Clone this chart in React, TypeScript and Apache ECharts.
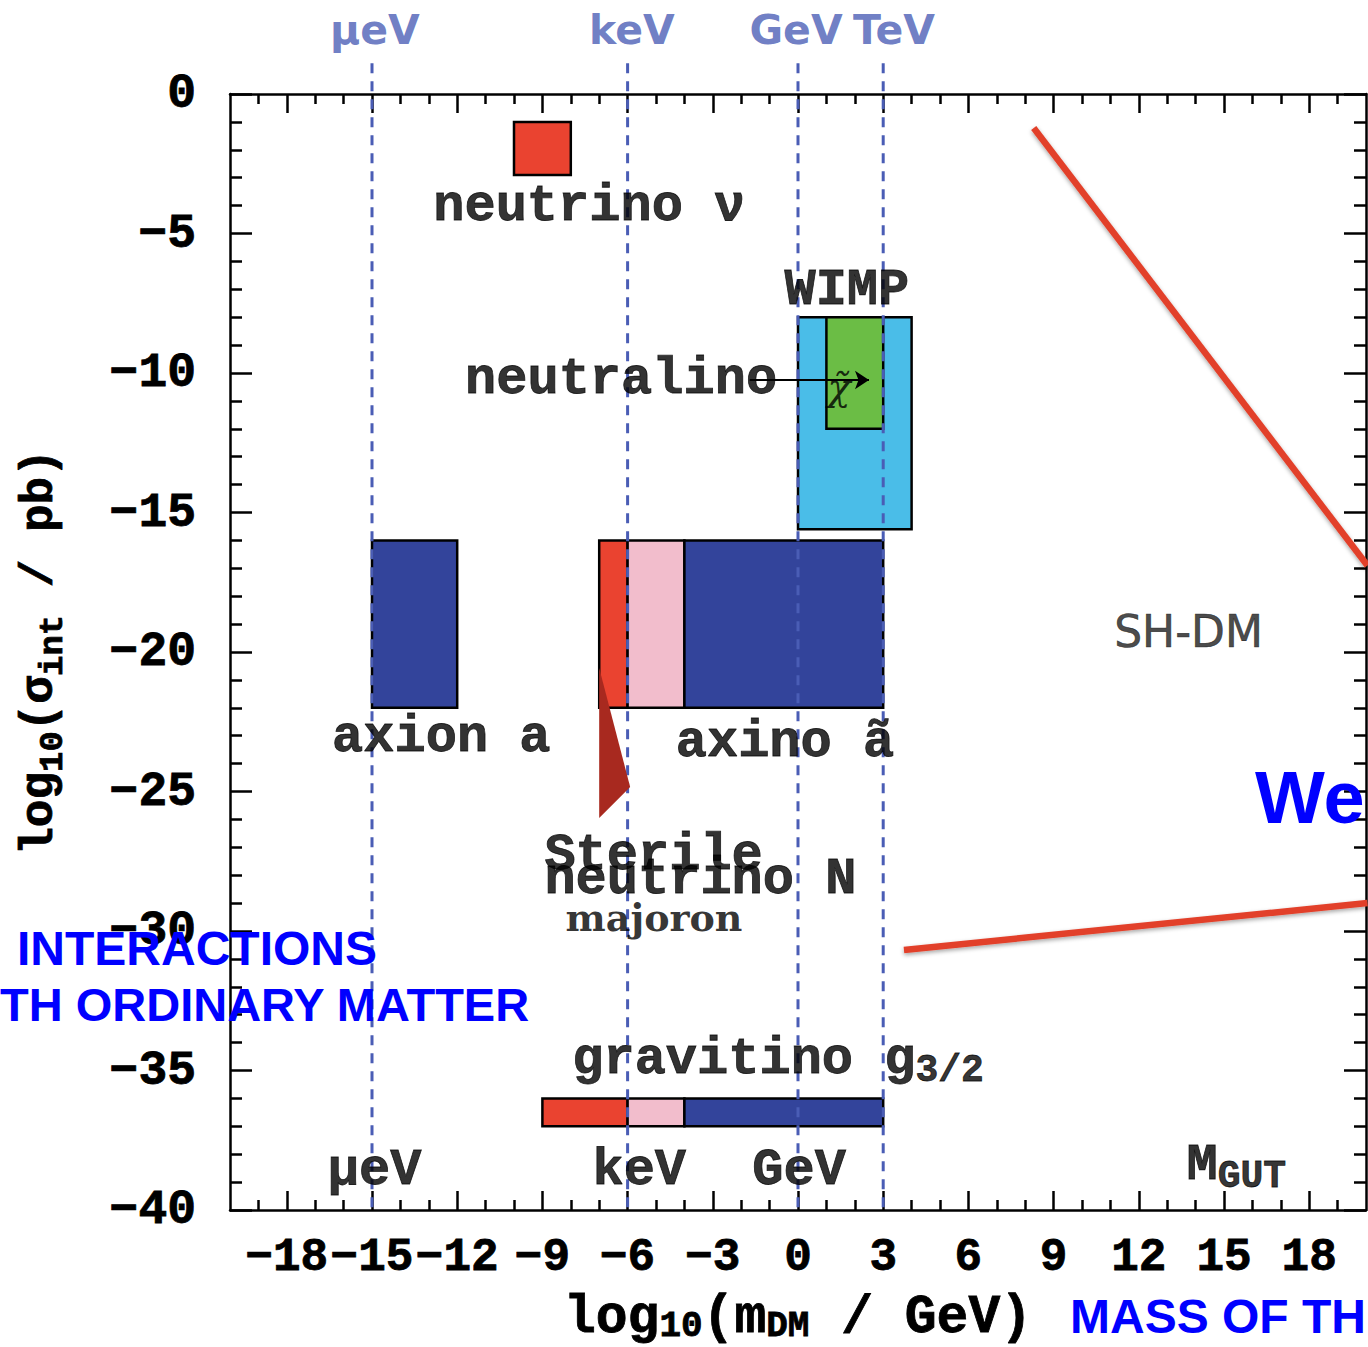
import React, { useEffect, useRef } from "react";
import * as echarts from "echarts";

// ---------- axes ----------
const xMajorTicks = [-18, -15, -12, -9, -6, -3, 0, 3, 6, 9, 12, 15, 18];
const xMinorTicks = [-19, -17, -16, -14, -13, -11, -10, -8, -7, -5, -4, -2, -1, 1, 2, 4, 5, 7, 8, 10, 11, 13, 14, 16, 17, 19];
const yMajorTicks = [0, -5, -10, -15, -20, -25, -30, -35, -40];
const yMinorTicks = [-1, -2, -3, -4, -6, -7, -8, -9, -11, -12, -13, -14, -16, -17, -18, -19, -21, -22, -23, -24, -26, -27, -28, -29, -31, -32, -33, -34, -36, -37, -38, -39];

// ---------- candidate regions (log10 m / GeV, log10 sigma / pb) ----------
const boxNames = ["neutrino", "WIMP", "neutralino", "axion", "sterile neutrino", "axino (warm)", "axino", "gravitino (hot)", "gravitino (warm)", "gravitino"];
const boxMassMin = [-10, 0, 1, -15, -7, -6, -4, -9, -6, -4];
const boxMassMax = [-8, 4, 3, -12, -6, -4, 3, -6, -4, 3];
const boxSigmaLow = [-2.9, -15.6, -12, -22, -22, -22, -22, -37, -37, -37];
const boxSigmaHigh = [-1, -8, -8, -16, -16, -16, -16, -36, -36, -36];
const boxKind = ["hot", "wimp", "neutralino", "cold", "hot", "warm", "cold", "hot", "warm", "cold"];

// ---------- energy scale markers ----------
const scaleNames = ["μeV", "keV", "GeV", "TeV"];
const scaleLogMass = [-15, -6, 0, 3];
const scaleLabelMass = [-14.9, -5.85, -0.07, 3.38];
const scaleLabelSigma = 2.29;
const scaleLineTop = 1.1;

// ---------- annotations (data coordinates) ----------
const annoMain = ["neutrino ν", "WIMP", "neutralino", "axion a", "axino ã", "Sterile", "neutrino N", "gravitino g", "μeV", "keV", "GeV", "M"];
const annoSub = ["", "", "", "", "", "", "", "3/2", "", "", "", "GUT"];
const annoMass = [-7.35, 1.72, -6.23, -12.56, -0.46, -8.93, -8.93, -7.95, -14.91, -5.59, 0.04, 13.68];
const annoSigma = [-4.05, -7.03, -10.25, -23.08, -23.23, -27.3, -28.15, -34.6, -38.6, -38.6, -38.6, -38.4];
const annoLeftAligned = [false, false, false, false, false, true, true, true, false, false, false, true];

const majoronPos = [-5.07, -29.53];
const shdmPos = [13.75, -19.28];
const chiPos = [1.44, -10.5];
const neutralinoArrow = [[-1.7, -10.25], [2.5, -10.25]];
const sterilePointer = [[-7.0, -20.57], [-7.0, -25.95], [-5.91, -24.84]];
const pointerA = [[8.3, -1.22], [20.05, -16.9]];
const pointerB = [[3.73, -30.68], [20.05, -29.0]];

// ---------- styles ----------
const palette: Record<string, string> = {
  hot: "#EA4330",
  warm: "#F2BDCC",
  cold: "#33449B",
  wimp: "#4ABDE8",
  neutralino: "#6BBD45",
};
const MONO = '"Liberation Mono", "DejaVu Sans Mono", monospace';
const INK = "#000";
const SCALE_BLUE = "#4A5DB5";
const BRIGHT_BLUE = "#0000FF";
const SANS_BOLD = '"Liberation Sans", Arial, sans-serif';

const fmtNum = (v: number) => (v < 0 ? "\u2212" + Math.abs(v) : String(v));

const heavy = { textBorderColor: INK, textBorderWidth: 0.8 };

const subRich = (size: number, subSize: number, lh: number, subLh: number) => ({
  a: { fontFamily: MONO, fontWeight: "bold", fontSize: size, lineHeight: lh, color: INK, ...heavy },
  s: { fontFamily: MONO, fontWeight: "bold", fontSize: subSize, lineHeight: subLh, verticalAlign: "bottom", color: INK, ...heavy },
});

const tickStyle = { color: INK, width: 2.5 };
const axisLineStyle = { show: true, onZero: false, lineStyle: { color: INK, width: 2.5 } };
const hiddenLine = { show: false, onZero: false };

function makeXAxes() {
  const base = { type: "value", min: -20, max: 20, splitLine: { show: false } };
  return [
    {
      ...base,
      position: "bottom",
      axisLine: axisLineStyle,
      axisTick: { show: true, inside: true, length: 19, lineStyle: tickStyle, customValues: xMajorTicks },
      axisLabel: {
        show: true,
        customValues: xMajorTicks,
        formatter: fmtNum,
        margin: 25,
        color: INK,
        fontFamily: MONO,
        fontWeight: "bold",
        fontSize: 46,
        ...heavy,
      },
      name: "{a|log}{s|10}{a|(m}{s|DM}{a| / GeV)}",
      nameLocation: "middle",
      nameGap: 82,
      nameTextStyle: { rich: subRich(53, 36, 52, 26) },
    },
    {
      ...base,
      position: "bottom",
      axisLine: hiddenLine,
      axisTick: { show: true, inside: true, length: 10, lineStyle: tickStyle, customValues: xMinorTicks },
      axisLabel: { show: false },
    },
    {
      ...base,
      position: "top",
      axisLine: axisLineStyle,
      axisTick: { show: true, inside: true, length: 19, lineStyle: tickStyle, customValues: xMajorTicks },
      axisLabel: { show: false },
    },
    {
      ...base,
      position: "top",
      axisLine: hiddenLine,
      axisTick: { show: true, inside: true, length: 10, lineStyle: tickStyle, customValues: xMinorTicks },
      axisLabel: { show: false },
    },
  ];
}

function makeYAxes() {
  const base = { type: "value", min: -40, max: 0, splitLine: { show: false } };
  return [
    {
      ...base,
      position: "left",
      axisLine: axisLineStyle,
      axisTick: { show: true, inside: true, length: 22, lineStyle: tickStyle, customValues: yMajorTicks },
      axisLabel: {
        show: true,
        customValues: yMajorTicks,
        formatter: fmtNum,
        margin: 34,
        color: INK,
        fontFamily: MONO,
        fontWeight: "bold",
        fontSize: 48,
        ...heavy,
      },
      name: "{a|log}{s|10}{a|(σ}{s|int}{a| / pb)}",
      nameLocation: "middle",
      nameRotate: 90,
      nameGap: 160,
      nameTextStyle: { rich: subRich(46, 34, 60, 28) },
    },
    {
      ...base,
      position: "left",
      axisLine: hiddenLine,
      axisTick: { show: true, inside: true, length: 12, lineStyle: tickStyle, customValues: yMinorTicks },
      axisLabel: { show: false },
    },
    {
      ...base,
      position: "right",
      axisLine: axisLineStyle,
      axisTick: { show: true, inside: true, length: 22, lineStyle: tickStyle, customValues: yMajorTicks },
      axisLabel: { show: false },
    },
    {
      ...base,
      position: "right",
      axisLine: hiddenLine,
      axisTick: { show: true, inside: true, length: 12, lineStyle: tickStyle, customValues: yMinorTicks },
      axisLabel: { show: false },
    },
  ];
}

function buildOption() {
  const boxData = boxNames.map((n, i) => ({
    name: n,
    value: [boxMassMin[i], boxMassMax[i], boxSigmaLow[i], boxSigmaHigh[i], i],
  }));

  const scaleLineSeries = scaleLogMass.map((m, i) => ({
    type: "line",
    name: scaleNames[i] + " line",
    data: [[m, scaleLineTop], [m, -40]],
    symbol: "none",
    clip: false,
    z: 3,
    silent: true,
    lineStyle: { color: SCALE_BLUE, width: 3, type: [10, 8] },
  }));

  const pointerSeries = [pointerA, pointerB].map((pts, i) => ({
    type: "line",
    name: "pointer " + i,
    data: pts,
    symbol: "none",
    clip: false,
    z: 5,
    silent: true,
    lineStyle: {
      color: "#E2412B",
      width: 6.5,
      shadowColor: "rgba(0,0,0,0.35)",
      shadowBlur: 4,
      shadowOffsetY: 2,
    },
  }));

  const labelData: any[] = annoMain.map((t, i) => ({
    value: [annoMass[i], annoSigma[i]],
    label: {
      formatter: annoSub[i] ? `{a|${t}}{s|${annoSub[i]}}` : `{a|${t}}`,
      align: annoLeftAligned[i] ? "left" : "center",
      rich: subRich(52, 38, 60, 30),
    },
  }));
  labelData.push({
    value: majoronPos,
    label: {
      formatter: "majoron",
      align: "center",
      fontFamily: '"DejaVu Serif", serif',
      fontWeight: "bold",
      fontSize: 38,
      color: INK,
    },
  });
  labelData.push({
    value: shdmPos,
    label: {
      formatter: "SH-DM",
      align: "center",
      fontFamily: '"DejaVu Sans", sans-serif',
      fontSize: 44,
      color: "#1a1a1a",
      textBorderColor: "#1a1a1a",
      textBorderWidth: 0.6,
    },
  });
  labelData.push({
    value: chiPos,
    label: {
      formatter: "χ̃",
      align: "center",
      fontFamily: '"DejaVu Serif", serif',
      fontStyle: "italic",
      fontSize: 38,
      color: INK,
    },
  });
  scaleNames.forEach((n, i) => {
    labelData.push({
      value: [scaleLabelMass[i], scaleLabelSigma],
      label: {
        formatter: n,
        align: "center",
        fontFamily: '"DejaVu Sans", sans-serif',
        fontWeight: "bold",
        fontSize: 41,
        color: SCALE_BLUE,
      },
    });
  });

  return {
    animation: false,
    backgroundColor: "#ffffff",
    grid: { left: 230, right: 2, top: 94, bottom: 137, containLabel: false, outerBoundsMode: "none" },
    xAxis: makeXAxes(),
    yAxis: makeYAxes(),
    series: [
      {
        type: "custom",
        name: "regions",
        z: 2,
        silent: true,
        data: boxData,
        renderItem: (params: any, api: any) => {
          const i = api.value(4);
          const p0 = api.coord([api.value(0), api.value(3)]);
          const p1 = api.coord([api.value(1), api.value(2)]);
          return {
            type: "rect",
            shape: { x: p0[0], y: p0[1], width: p1[0] - p0[0], height: p1[1] - p0[1] },
            style: { fill: palette[boxKind[i]], stroke: INK, lineWidth: 2.5 },
          };
        },
      },
      {
        type: "custom",
        name: "sterile pointer",
        z: 4,
        silent: true,
        data: [0],
        renderItem: (params: any, api: any) => ({
          type: "polygon",
          shape: { points: sterilePointer.map((p) => api.coord(p)) },
          style: { fill: "#A8291F" },
        }),
      },
      ...scaleLineSeries,
      ...pointerSeries,
      {
        type: "line",
        name: "neutralino arrow",
        data: [],
        z: 5,
        markLine: {
          silent: true,
          symbol: ["none", "arrow"],
          symbolSize: 14,
          label: { show: false },
          lineStyle: { color: INK, width: 2, type: "solid" },
          data: [[{ coord: neutralinoArrow[0] }, { coord: neutralinoArrow[1] }]],
        },
      },
      {
        type: "scatter",
        name: "annotations",
        symbolSize: 0,
        clip: false,
        silent: true,
        z: 6,
        label: { show: true, position: "inside", verticalAlign: "middle" },
        data: labelData,
      },
    ],
    graphic: [
      {
        type: "text",
        x: 17,
        y: 948,
        z: 100,
        style: { text: "INTERACTIONS", fill: BRIGHT_BLUE, fontFamily: SANS_BOLD, fontWeight: "bold", fontSize: 48, align: "left", verticalAlign: "middle" },
      },
      {
        type: "text",
        x: 0,
        y: 1004,
        z: 100,
        style: { text: "TH ORDINARY MATTER", fill: BRIGHT_BLUE, fontFamily: SANS_BOLD, fontWeight: "bold", fontSize: 47, align: "left", verticalAlign: "middle" },
      },
      {
        type: "text",
        x: 1255,
        y: 797,
        z: 100,
        style: { text: "We", fill: BRIGHT_BLUE, fontFamily: SANS_BOLD, fontWeight: "bold", fontSize: 74, align: "left", verticalAlign: "middle" },
      },
      {
        type: "text",
        x: 1070,
        y: 1316,
        z: 100,
        style: { text: "MASS OF TH", fill: BRIGHT_BLUE, fontFamily: SANS_BOLD, fontWeight: "bold", fontSize: 48, align: "left", verticalAlign: "middle" },
      },
    ],
  };
}

export default function App() {
  const ref = useRef<HTMLDivElement>(null);
  useEffect(() => {
    if (!ref.current) return;
    const chart = echarts.init(ref.current, null, { renderer: "svg" });
    chart.setOption(buildOption() as any);
    return () => chart.dispose();
  }, []);
  return (
    <div
      ref={ref}
      style={{ position: "fixed", left: 0, top: 0, width: 1368, height: 1347, background: "#fff" }}
    />
  );
}
